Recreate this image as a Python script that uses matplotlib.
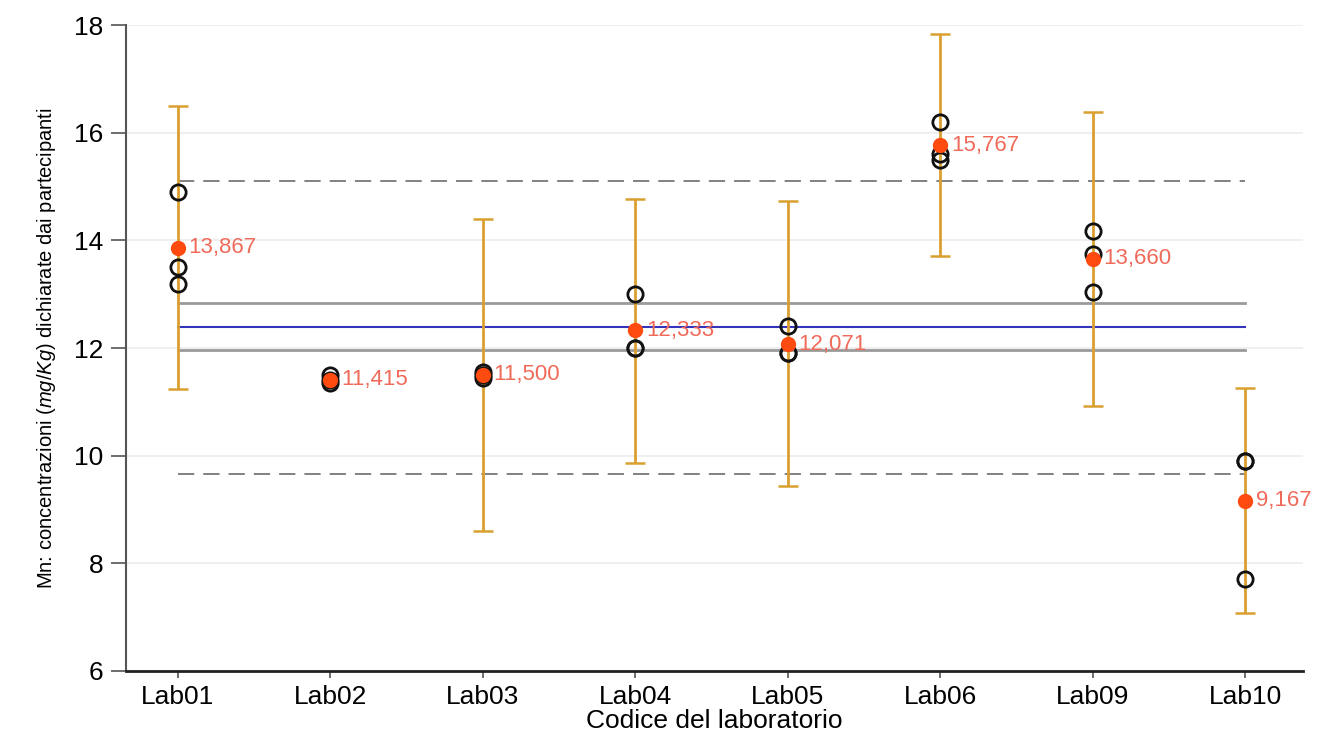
import matplotlib.pyplot as plt
import numpy as np

plt.rcParams['font.family'] = ['Liberation Sans', 'DejaVu Sans']
plt.rcParams['mathtext.fontset'] = 'custom'
plt.rcParams['mathtext.it'] = 'Liberation Sans:italic'
plt.rcParams['mathtext.rm'] = 'Liberation Sans'

# dati
labs = ['Lab01', 'Lab02', 'Lab03', 'Lab04', 'Lab05', 'Lab06', 'Lab09', 'Lab10']
replicati = [
    [14.9, 13.5, 13.2],
    [11.5, 11.4, 11.35],
    [11.55, 11.45, 11.5],
    [13.0, 12.0, 12.0],
    [12.41, 11.9, 11.9],
    [16.2, 15.6, 15.5],
    [14.18, 13.75, 13.05],
    [9.9, 9.9, 7.7],
]
medie = [13.867, 11.415, 11.500, 12.333, 12.071, 15.767, 13.660, 9.167]
etichette = ['13,867', '11,415', '11,500', '12,333', '12,071', '15,767', '13,660', '9,167']
err_sup = [16.5, np.nan, 14.4, 14.78, 14.74, 17.84, 16.38, 11.25]
err_inf = [11.24, np.nan, 8.6, 9.86, 9.43, 13.72, 10.92, 7.07]

valore_rif = 12.39
lim_rif = [11.97, 12.84]
lim_tol = [9.66, 15.1]

fig = plt.figure(figsize=(13.37, 7.43), dpi=100)
ax = fig.add_axes([0.0942, 0.097, 0.8804, 0.869])

x = np.arange(len(labs))

# griglia leggera
for yv in range(6, 19, 2):
    ax.axhline(yv, color='#ececec', lw=1.2, zorder=0)

# linee di riferimento
ax.plot([x[0], x[-1]], [lim_tol[0]] * 2, color='#777777', lw=1.3, ls=(0, (9, 5)), zorder=1)
ax.plot([x[0], x[-1]], [lim_tol[1]] * 2, color='#777777', lw=1.3, ls=(0, (9, 5)), zorder=1)
ax.plot([x[0], x[-1]], [lim_rif[0]] * 2, color='#9a9a9a', lw=2, zorder=1)
ax.plot([x[0], x[-1]], [lim_rif[1]] * 2, color='#9a9a9a', lw=2, zorder=1)
ax.plot([x[0], x[-1]], [valore_rif] * 2, color='#3333bb', lw=1.5, zorder=1)

# barre di errore
for i in range(len(labs)):
    if np.isnan(err_sup[i]):
        continue
    ax.errorbar(x[i], medie[i], yerr=[[medie[i] - err_inf[i]], [err_sup[i] - medie[i]]],
                fmt='none', ecolor='#d9a030', elinewidth=2, capsize=7, capthick=1.8, zorder=2)

# replicati
for i in range(len(labs)):
    ax.plot([x[i]] * len(replicati[i]), replicati[i], 'o', mfc='none', mec='#111111',
            ms=11, mew=2, zorder=3)

# medie
ax.plot(x, medie, 'o', color='#ff4a10', ms=10, zorder=4)
for i in range(len(labs)):
    ax.text(x[i] + 0.07, medie[i], etichette[i], color='#f06a5a', fontsize=16,
            va='center', ha='left', zorder=5)

ax.set_xlim(-0.34, 7.38)
ax.set_ylim(6, 18)
ax.set_yticks(range(6, 19, 2))
ax.set_xticks(x)
ax.set_xticklabels(labs)
ax.tick_params(axis='y', labelsize=19, length=11, width=1.2, color='#555555', pad=5)
ax.tick_params(axis='x', labelsize=19, length=5, width=1.2, color='#555555', pad=5)

for s in ['top', 'right']:
    ax.spines[s].set_visible(False)
ax.spines['left'].set_color('#555555')
ax.spines['bottom'].set_color('#222222')
ax.spines['left'].set_linewidth(1.5)
ax.spines['bottom'].set_linewidth(2)

ax.set_xlabel('Codice del laboratorio', fontsize=19, labelpad=0)
ax.set_ylabel(r'Mn: concentrazioni ($\mathit{mg/Kg}$) dichiarate dai partecipanti',
              fontsize=14.5, labelpad=12)

plt.savefig('out.png', dpi=100)
